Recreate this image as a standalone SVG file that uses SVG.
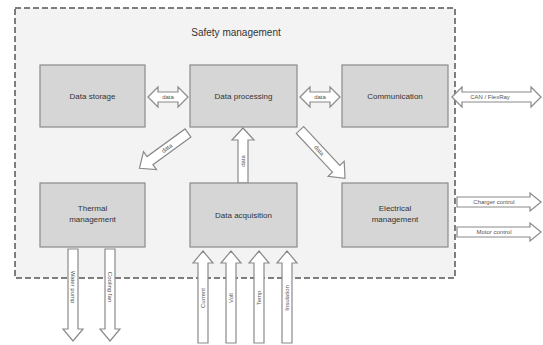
<svg xmlns="http://www.w3.org/2000/svg" width="543" height="345" viewBox="0 0 543 345">
<style>
.frame{fill:#f3f3f3;stroke:#555;stroke-width:1.5;stroke-dasharray:6 3}
.box{fill:#d6d6d6;stroke:#8a8a8a;stroke-width:1.2}
.lbl{font-family:"Liberation Sans",Arial,sans-serif;font-size:8px;fill:#333;text-anchor:middle}
.title{font-family:"Liberation Sans",Arial,sans-serif;font-size:10px;fill:#333;text-anchor:middle}
.arr{fill:#fff;stroke:#8a8a8a;stroke-width:1.2;stroke-linejoin:miter}
.al{font-family:"Liberation Sans",Arial,sans-serif;font-size:6px;fill:#555;text-anchor:middle}
</style>
<rect width="543" height="345" fill="#fff"/>
<rect class="frame" x="15" y="8" width="440" height="270"/>
<text class="title" x="236" y="36">Safety management</text>

<g id="connectors">
  <g id="c-storage-processing">
    <polygon class="arr" points="148,97 158,87 158,92 178,92 178,87 188,97 178,107 178,102 158,102 158,107"/>
    <text class="al" x="168" y="99">data</text>
  </g>
  <g id="c-processing-communication">
    <polygon class="arr" points="300,97 310,87 310,92 330,92 330,87 340,97 330,107 330,102 310,102 310,107"/>
    <text class="al" x="320" y="99">data</text>
  </g>
  <g id="c-can">
    <polygon class="arr" points="452,97 462,87 462,92 531,92 531,87 541,97 531,107 531,102 462,102 462,107"/>
    <text class="al" x="490" y="99">CAN / FlexRay</text>
  </g>
  <g id="c-charger">
    <polygon class="arr" points="457,197 530,197 530,193 541,202 530,211 530,207 457,207"/>
    <text class="al" x="494" y="204">Charger control</text>
  </g>
  <g id="c-motor">
    <polygon class="arr" points="457,227 530,227 530,223 541,232 530,241 530,237 457,237"/>
    <text class="al" x="494" y="234">Motor control</text>
  </g>
  <g id="c-processing-thermal" transform="translate(188,133) rotate(144)">
    <polygon class="arr" points="0,-5 47,-5 47,-11 60,0 47,11 47,5 0,5"/>
    <text class="al" x="26" y="2" transform="rotate(180 26 0)">data</text>
  </g>
  <g id="c-acq-processing" transform="translate(243,183) rotate(-90)">
    <polygon class="arr" points="0,-5 43,-5 43,-11 55,0 43,11 43,5 0,5"/>
    <text class="al" x="22" y="2">data</text>
  </g>
  <g id="c-processing-electrical" transform="translate(300,130) rotate(47)">
    <polygon class="arr" points="0,-5 53,-5 53,-11 66,0 53,11 53,5 0,5"/>
    <text class="al" x="28" y="2">data</text>
  </g>
  <g id="c-waterpump" transform="translate(73,249) rotate(90)">
    <polygon class="arr" points="0,-5 80,-5 80,-10 92,0 80,10 80,5 0,5"/>
    <text class="al" x="38" y="2">Water pump</text>
  </g>
  <g id="c-fan" transform="translate(110,249) rotate(90)">
    <polygon class="arr" points="0,-5 80,-5 80,-10 92,0 80,10 80,5 0,5"/>
    <text class="al" x="38" y="2">Cooling fan</text>
  </g>
  <g id="c-current" transform="translate(203,343) rotate(-90)">
    <polygon class="arr" points="0,-5 80,-5 80,-10 92,0 80,10 80,5 0,5"/>
    <text class="al" x="45" y="2">Current</text>
  </g>
  <g id="c-voltage" transform="translate(231,343) rotate(-90)">
    <polygon class="arr" points="0,-5 80,-5 80,-10 92,0 80,10 80,5 0,5"/>
    <text class="al" x="45" y="2">Volt</text>
  </g>
  <g id="c-temp" transform="translate(259,343) rotate(-90)">
    <polygon class="arr" points="0,-5 80,-5 80,-10 92,0 80,10 80,5 0,5"/>
    <text class="al" x="45" y="2">Temp</text>
  </g>
  <g id="c-insulation" transform="translate(287,343) rotate(-90)">
    <polygon class="arr" points="0,-5 80,-5 80,-10 92,0 80,10 80,5 0,5"/>
    <text class="al" x="45" y="2">Insulation</text>
  </g>
</g>

<g id="data-storage">
  <rect class="box" x="40" y="65" width="105" height="62"/>
  <text class="lbl" x="92.5" y="99">Data storage</text>
</g>
<g id="data-processing">
  <rect class="box" x="190" y="65" width="107" height="62"/>
  <text class="lbl" x="243.5" y="99">Data processing</text>
</g>
<g id="communication">
  <rect class="box" x="342" y="65" width="106" height="62"/>
  <text class="lbl" x="395" y="99">Communication</text>
</g>
<g id="thermal-management">
  <rect class="box" x="40" y="183" width="105" height="64"/>
  <text class="lbl" x="92.5" y="211">Thermal</text>
  <text class="lbl" x="92.5" y="222">management</text>
</g>
<g id="data-acquisition">
  <rect class="box" x="190" y="183" width="107" height="64"/>
  <text class="lbl" x="243.5" y="218">Data acquisition</text>
</g>
<g id="electrical-management">
  <rect class="box" x="342" y="183" width="106" height="64"/>
  <text class="lbl" x="395" y="211">Electrical</text>
  <text class="lbl" x="395" y="222">management</text>
</g>
</svg>
